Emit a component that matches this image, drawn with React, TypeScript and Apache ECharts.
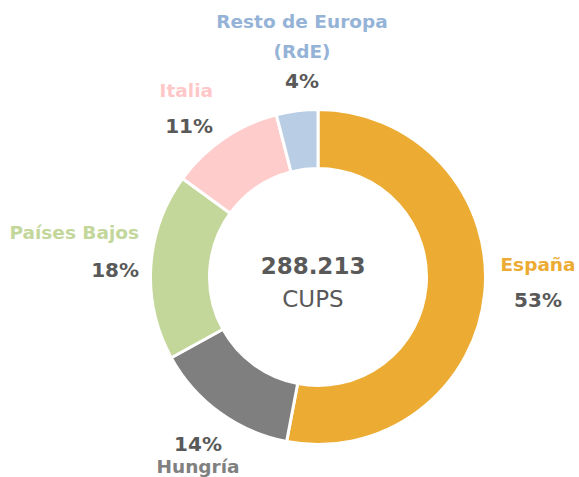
import React, { useEffect, useRef } from "react";
import * as echarts from "echarts";

const categories = ["España", "Hungría", "Países Bajos", "Italia", "Resto de Europa\n(RdE)"];
const shares = [53, 14, 18, 11, 4];
const totalLabel = "288.213";
const unitLabel = "CUPS";

const sliceColors = ["#ECAB32", "#7F7F7F", "#C4D79B", "#FFCCCC", "#B9CDE5"];
const nameColors = ["#ECAB32", "#808080", "#C4D79B", "#FFC7C7", "#95B3D7"];
// label anchor [x, y, align, lineHeight, percentFirst]
const labelLayoutTable: [number, number, string, number, boolean][] = [
  [538, 282, "center", 36, false],
  [198, 455, "center", 22, true],
  [139, 251, "right", 37, false],
  [213, 108, "right", 35, false],
  [302, 51, "center", 29.5, false],
];

export default function App() {
  const ref = useRef<HTMLDivElement>(null);
  useEffect(() => {
    document.body.style.margin = "0";
    const chart = echarts.init(ref.current!, null, { renderer: "svg" });
    const font = "DejaVu Sans";
    chart.setOption({
      animation: false,
      backgroundColor: "#ffffff",
      series: [
        {
          type: "pie",
          center: [318, 277],
          radius: [108.5, 167.5],
          startAngle: 90,
          clockwise: true,
          avoidLabelOverlap: false,
          itemStyle: { borderColor: "#ffffff", borderWidth: 3 },
          emphasis: { disabled: true },
          labelLine: { show: false },
          data: categories.map((name, i) => {
            const [, , align, lh, pctFirst] = labelLayoutTable[i];
            return {
              name,
              value: shares[i],
              itemStyle: { color: sliceColors[i] },
              label: {
                show: true,
                position: "outside",
                formatter: () => {
                  const lines = name.split("\n").map((l) => `{n|${l}}`);
                  const pct = `{p|${shares[i]}%}`;
                  return pctFirst ? [pct, ...lines].join("\n") : [...lines, pct].join("\n");
                },
                rich: {
                  n: {
                    fontFamily: font,
                    fontWeight: "bold",
                    fontSize: 18.5,
                    color: nameColors[i],
                    lineHeight: lh,
                    align,
                  },
                  p: {
                    fontFamily: font,
                    fontWeight: "bold",
                    fontSize: 20,
                    color: "#595959",
                    lineHeight: lh,
                    align,
                  },
                },
              },
            };
          }),
          labelLayout: (params: any) => {
            const [x, y, align] = labelLayoutTable[params.dataIndex];
            return { x, y, align, verticalAlign: "middle" };
          },
        },
      ],
      graphic: [
        {
          type: "text",
          x: 313,
          y: 266,
          style: {
            text: totalLabel,
            fontFamily: font,
            fontWeight: "bold",
            fontSize: 23,
            fill: "#595959",
            align: "center",
            verticalAlign: "middle",
          },
        },
        {
          type: "text",
          x: 313,
          y: 299,
          style: {
            text: unitLabel,
            fontFamily: font,
            fontSize: 23,
            fill: "#595959",
            align: "center",
            verticalAlign: "middle",
          },
        },
      ],
    });
    return () => chart.dispose();
  }, []);
  return <div ref={ref} style={{ width: 579, height: 477 }} />;
}
